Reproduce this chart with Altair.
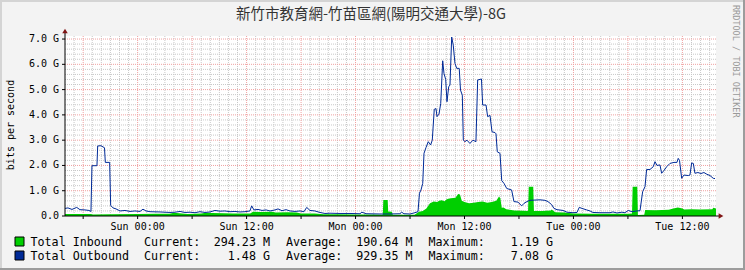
import altair as alt
import pandas as pd

TITLE = "新竹市教育網-竹苗區網(陽明交通大學)-8G"

# hours since Sat 16:00
out_t = [0.0, 0.33, 0.77, 1.29, 1.65, 2.2, 2.64, 2.86, 2.97, 3.52, 3.6, 3.96, 4.35, 4.44, 4.92, 5.03,
         5.29, 5.62, 6.06, 6.61, 7.16, 7.71, 8.26, 8.59, 8.92, 9.36, 10.46, 11.56, 12.11, 12.67, 13.22,
         13.77, 14.32, 14.87, 15.42, 15.97, 16.52, 17.07, 17.62, 18.17, 18.72, 19.27, 19.82, 20.37, 20.56,
         20.81, 21.26, 21.70, 22.14, 22.58, 23.13, 23.46, 23.90, 24.34, 24.78, 25.33, 25.88, 26.32, 26.62,
         26.98, 27.53, 28.08, 28.63, 29.19, 30.29, 31.39, 32.49, 32.70, 33.15, 34.69, 35.79, 36.89, 37.08,
         37.33, 37.99, 38.44, 38.88, 39.04, 39.21, 39.40, 39.54, 39.76, 40.01, 40.27, 40.45, 40.67, 40.86,
         40.97, 41.19, 41.38, 41.60, 41.74, 41.93, 42.07, 42.26, 42.40, 42.59, 42.76, 42.95, 43.14, 43.42,
         43.56, 43.76, 43.87, 44.05, 44.27, 44.60, 44.93, 45.26, 45.45, 45.87, 46.00, 46.37, 46.55, 46.81,
         47.03, 47.36, 47.47, 47.61, 47.91, 48.10, 48.35, 48.65, 48.90, 49.19, 49.45, 49.89, 50.30, 50.55,
         50.88, 51.21, 51.76, 52.31, 52.86, 53.19, 53.60, 53.85, 54.19, 54.85, 55.29, 55.95, 56.39, 56.64,
         56.94, 57.46, 57.82, 58.15, 58.92, 60.02, 60.35, 60.79, 61.34, 61.67, 62.04, 62.44, 62.96, 63.33,
         63.62, 63.88, 64.06, 64.43, 64.79, 64.98, 65.20, 65.53, 65.71, 65.97, 66.27, 66.63, 67.07, 67.40,
         67.54, 67.68, 67.92, 68.17, 68.65, 68.83, 69.02, 69.20, 69.38, 69.71, 70.04, 70.37, 70.70, 71.04,
         71.40, 71.59]
out_v = [0.30, 0.32, 0.26, 0.34, 0.25, 0.24, 0.22, 0.18, 1.99, 1.99, 2.77, 2.78, 2.70, 2.12, 2.12, 0.42,
         0.32, 0.28, 0.20, 0.22, 0.18, 0.20, 0.18, 0.27, 0.20, 0.17, 0.16, 0.14, 0.15, 0.18, 0.14,
         0.15, 0.13, 0.17, 0.14, 0.16, 0.22, 0.19, 0.20, 0.17, 0.18, 0.16, 0.17, 0.20, 0.40,
         0.24, 0.26, 0.22, 0.24, 0.20, 0.24, 0.28, 0.21, 0.25, 0.20, 0.18, 0.20, 0.17, 0.34,
         0.22, 0.20, 0.14, 0.10, 0.11, 0.10, 0.10, 0.09, 0.15, 0.09, 0.08, 0.08, 0.09, 0.15,
         0.09, 0.08, 0.12, 0.17, 0.90, 1.03, 1.29, 2.48, 2.71, 2.94, 2.81, 3.00, 4.22, 4.25,
         3.93, 4.03, 4.45, 6.14, 5.64, 5.40, 4.52, 5.11, 5.18, 7.08, 6.76, 6.04, 5.84, 5.84,
         4.98, 4.78, 3.00, 2.94, 3.00, 2.87, 3.00, 2.94, 5.38, 5.42, 4.39, 4.39, 3.93, 3.98,
         3.33, 3.30, 3.25, 2.54, 2.48, 1.40, 1.29, 1.09, 1.06, 1.03, 0.57, 0.55, 0.40, 0.50,
         0.57, 0.62, 0.63, 0.64, 0.62, 0.57, 0.45, 0.30, 0.25, 0.22, 0.15, 0.13, 0.14, 0.34,
         0.30, 0.24, 0.20, 0.14, 0.13, 0.13, 0.16, 0.12, 0.15, 0.13, 0.22, 0.17, 0.20, 0.21,
         0.96, 1.16, 1.84, 1.84, 1.95, 2.15, 2.00, 2.02, 1.69, 1.80, 1.95, 2.08, 2.12, 2.12,
         2.28, 2.20, 1.49, 1.62, 1.60, 1.62, 2.10, 2.08, 1.69, 1.72, 1.68, 1.72, 1.65, 1.60,
         1.49, 1.48]

in_t = [0.0, 2.9, 3.0, 5.0, 8.0, 10.0, 11.5, 12.0, 12.6, 13.5, 15.0, 15.5, 16.2, 17.5, 18.5, 20.4,
        20.7, 21.5, 22.8, 23.2, 24.5, 25.5, 26.0, 27.5, 28.5, 30.0, 32.0, 34.0, 35.0, 35.06, 35.54,
        35.6, 36.0, 36.1, 38.5, 39.0, 39.4, 39.8, 40.2, 40.6, 41.0, 41.2, 41.5, 41.8, 42.0, 42.2,
        42.5, 43.0, 43.3, 43.5, 43.7, 44.0, 44.5, 45.0, 45.5, 46.0, 46.5, 47.0, 47.5, 47.8, 47.95,
        48.1, 48.3, 48.6, 49.5, 50.5, 51.0, 51.08, 51.57, 51.65, 52.5, 53.5, 53.6, 54.0, 55.0, 56.0,
        58.0, 60.0, 62.0, 62.45, 62.52, 63.03, 63.1, 63.8, 63.9, 65.0, 66.5, 67.0, 67.5, 68.0, 68.2,
        69.0, 70.0, 71.3, 71.4, 71.7]
in_v = [0.08, 0.08, 0.06, 0.07, 0.08, 0.09, 0.09, 0.13, 0.11, 0.08, 0.10, 0.13, 0.12, 0.11, 0.10, 0.10,
        0.17, 0.16, 0.17, 0.14, 0.15, 0.14, 0.10, 0.10, 0.07, 0.07, 0.06, 0.06, 0.05, 0.63, 0.63,
        0.18, 0.17, 0.05, 0.05, 0.17, 0.20, 0.30, 0.50, 0.57, 0.55, 0.60, 0.62, 0.58, 0.65, 0.68,
        0.70, 0.72, 0.87, 0.85, 0.60, 0.55, 0.50, 0.52, 0.55, 0.57, 0.52, 0.55, 0.60, 0.77, 0.70,
        0.33, 0.34, 0.27, 0.22, 0.21, 0.20, 1.16, 1.16, 0.20, 0.20, 0.22, 0.26, 0.15, 0.14, 0.10,
        0.09, 0.09, 0.09, 0.10, 1.16, 1.16, 0.04, 0.05, 0.24, 0.23, 0.25, 0.30, 0.34, 0.30, 0.26,
        0.27, 0.26, 0.27, 0.33, 0.30]

tick_hours = [8, 20, 32, 44, 56, 68]
tick_labels = ["Sun 00:00", "Sun 12:00", "Mon 00:00", "Mon 12:00", "Tue 00:00", "Tue 12:00"]
y_ticks = [0, 1, 2, 3, 4, 5, 6, 7]
y_labels = ["0.0", "1.0 G", "2.0 G", "3.0 G", "4.0 G", "5.0 G", "6.0 G", "7.0 G"]
major_x = list(range(2, 72, 6))
minor_x = [h for h in range(1, 72) if h not in major_x]
major_y = [1, 2, 3, 4, 5, 6, 7]
minor_y = [round(i * 0.2, 1) for i in range(1, 36) if i % 5 != 0]

legend_names = ["Total Inbound", "Total Outbound"]
legend_current = ["294.23 M", "1.48 G"]
legend_average = ["190.64 M", "929.35 M"]
legend_maximum = ["1.19 G", "7.08 G"]
series_colors = ["#00CF00", "#002A97"]

MONO = "DejaVu Sans Mono"
W, H = 651, 180
XMAX, YMAX = 71.7, 7.12

xs = alt.Scale(domain=[0, XMAX], nice=False, zero=False)
ys = alt.Scale(domain=[0, YMAX], nice=False, zero=True)

out_df = pd.DataFrame({"t": out_t, "v": out_v})
in_df = pd.DataFrame({"t": in_t, "v": in_v})


def vrules(vals, color):
    return alt.Chart(pd.DataFrame({"g": vals})).mark_rule(
        color=color, strokeWidth=1, strokeDash=[1, 1]
    ).encode(x=alt.X("g:Q", scale=xs, axis=None))


def hrules(vals, color):
    return alt.Chart(pd.DataFrame({"g": vals})).mark_rule(
        color=color, strokeWidth=1, strokeDash=[1, 1]
    ).encode(y=alt.Y("g:Q", scale=ys, axis=None))


grid = (vrules(minor_x, "#C8C8C8") + hrules(minor_y, "#C8C8C8")
        + vrules(major_x, "#F0A0A0") + hrules(major_y, "#F0A0A0"))

area = alt.Chart(in_df).mark_area(color=series_colors[0], interpolate="linear", clip=True).encode(
    x=alt.X("t:Q", scale=xs, axis=None),
    y=alt.Y("v:Q", scale=ys, axis=None),
)

line = alt.Chart(out_df).mark_line(color=series_colors[1], strokeWidth=1, clip=True).encode(
    x=alt.X("t:Q", scale=xs, axis=None),
    y=alt.Y("v:Q", scale=ys, axis=None),
)

# axis labels drawn through the same scales
xlab = alt.Chart(pd.DataFrame({"h": tick_hours, "lab": tick_labels})).mark_text(
    font=MONO, fontSize=10, color="#000000", align="center", baseline="alphabetic"
).encode(x=alt.X("h:Q", scale=xs, axis=None), y=alt.value(H + 13.5), text="lab:N")

ylab = alt.Chart(pd.DataFrame({"v": y_ticks, "lab": y_labels})).mark_text(
    font=MONO, fontSize=10, color="#000000", align="right", baseline="middle"
).encode(y=alt.Y("v:Q", scale=ys, axis=None), x=alt.value(-6), text="lab:N")

xticks = alt.Chart(pd.DataFrame({"g": major_x})).mark_rule(color="#000000", strokeWidth=1).encode(
    x=alt.X("g:Q", scale=xs, axis=None), y=alt.value(H), y2=alt.value(H + 3))

yticks = alt.Chart(pd.DataFrame({"g": y_ticks})).mark_rule(color="#000000", strokeWidth=1).encode(
    y=alt.Y("g:Q", scale=ys, axis=None), x=alt.value(-3), x2=alt.value(0))

one = alt.Data(values=[{"a": 1}])


def txt(s, x, y, size=10, font=MONO, align="left", baseline="alphabetic", angle=0, color="#000000"):
    kw = dict(align=align, baseline=baseline, font=font, fontSize=size, color=color)
    if angle:
        kw["angle"] = angle
    return alt.Chart(one).mark_text(**kw).encode(
        x=alt.value(x), y=alt.value(y), text=alt.value(s))


def box(x, x2, y, y2, fill, stroke=None):
    kw = dict(color=fill)
    if stroke:
        kw.update(stroke=stroke, strokeWidth=1)
    return alt.Chart(one).mark_rect(**kw).encode(
        x=alt.value(x), x2=alt.value(x2), y=alt.value(y), y2=alt.value(y2))


deco = [
    # frame
    box(-65, 680, -36, -34, "#D4D4D4"),
    box(-65, -63, -36, 234, "#D4D4D4"),
    box(-65, 680, 232, 234, "#9C9C9C"),
    box(678, 680, -36, 234, "#9C9C9C"),
    # axis lines + arrows
    alt.Chart(one).mark_rule(color="#000000").encode(x=alt.value(0), y=alt.value(-3), y2=alt.value(H)),
    alt.Chart(one).mark_rule(color="#000000").encode(x=alt.value(0), x2=alt.value(W + 3), y=alt.value(H)),
    alt.Chart(one).mark_point(shape="triangle-up", filled=True, color="#7F1414", size=30, opacity=1).encode(
        x=alt.value(0), y=alt.value(-5)),
    alt.Chart(one).mark_point(shape="triangle-right", filled=True, color="#7F1414", size=30, opacity=1).encode(
        x=alt.value(W + 5), y=alt.value(H)),
    # texts
    txt(TITLE, 306, -21, size=14.5, font="Noto Sans CJK TC", align="center", baseline="middle", color="#333333"),
    txt("bits per second", -54, 89, size=10, align="center", baseline="middle", angle=270),
    txt("RRDTOOL / TOBI OETIKER", 671, -31, size=8.5, align="left", baseline="middle", angle=90, color="#999999"),
]

LX = -65
for i in range(2):
    yb = 210 + 14 * i
    deco += [
        box(-50, -41, yb - 9, yb, series_colors[i], stroke="#000000"),
        txt(legend_names[i], 30.5 + LX, yb, size=11.7),
        txt("Current:", 144 + LX, yb, size=11.7),
        txt(legend_current[i], 270 + LX, yb, size=11.7, align="right"),
        txt("Average:", 286 + LX, yb, size=11.7),
        txt(legend_average[i], 412.5 + LX, yb, size=11.7, align="right"),
        txt("Maximum:", 428.5 + LX, yb, size=11.7),
        txt(legend_maximum[i], 553 + LX, yb, size=11.7, align="right"),
    ]

chart = alt.layer(grid, area, line, xticks, yticks, xlab, ylab, *deco).properties(
    width=W, height=H,
    padding={"left": 65, "top": 36, "right": 745 - 65 - W, "bottom": 270 - 36 - H},
    autosize=alt.AutoSizeParams(type="none"),
    background="#F3F3F3",
).configure_view(fill="#FFFFFF", strokeWidth=0)

chart.save("out.html", embed_options={"renderer": "svg", "actions": False})
